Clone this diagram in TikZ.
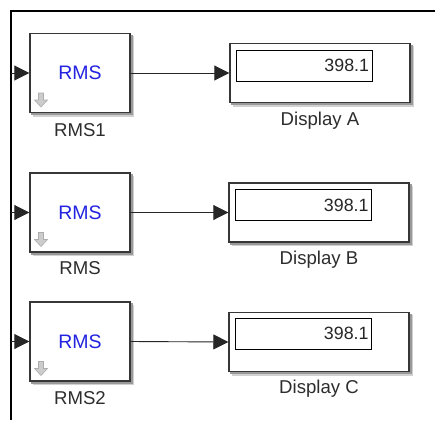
\documentclass[tikz,border=0pt]{standalone}
\usepackage{fontspec}
\setmainfont{Liberation Sans}
\usetikzlibrary{arrows.meta}
\definecolor{rmsblue}{RGB}{35,35,225}
\definecolor{lbl}{RGB}{45,45,45}
\definecolor{edge}{RGB}{55,55,55}
\tikzset{
  blk/.style={draw=edge, line width=1.4pt, fill=white, inner sep=0pt,
    minimum width=100pt, minimum height=79pt},
  disp/.style={draw=edge, line width=1.4pt, fill=white, inner sep=0pt,
    minimum width=180pt, minimum height=59pt},
  dispin/.style={draw=black, line width=0.8pt, fill=white, inner sep=0pt,
    minimum width=136pt, minimum height=31pt, text width=130pt, align=right,
    font=\fontsize{17.8}{18}\selectfont, text=black!85},
  rmstext/.style={font=\fontsize{19.5}{20}\selectfont, text=rmsblue},
  lab/.style={font=\fontsize{18.6}{19}\selectfont, text=lbl, inner sep=0pt},
  wire/.style={draw=black!85, line width=0.9pt, -{Triangle[length=15pt,width=15pt]}},
  frame/.style={draw=black, line width=2.6pt},
}
\newcommand{\shadowbox}[1]{%
  \fill[black!18] ([shift={(3.5,3.5)}]#1.north west) rectangle ([shift={(3.5,3.5)}]#1.south east);
  \fill[black!40] ([shift={(2,2)}]#1.north west) rectangle ([shift={(2,2)}]#1.south east);
}
\newcommand{\downicon}[2]{%
  \filldraw[fill=black!20, draw=black!32, line width=0.6pt]
    (#1-2.5,#2) -- (#1+2.5,#2) -- (#1+2.5,#2+7) -- (#1+6.5,#2+7) -- (#1,#2+14)
    -- (#1-6.5,#2+7) -- (#1-2.5,#2+7) -- cycle;
}
\begin{document}
\begin{tikzpicture}[x=1pt,y=-1pt]
\useasboundingbox (0,0) rectangle (435,420);
\fill[white] (0,0) rectangle (435,420);
% frame
\draw[frame] (11,420) -- (11,11) -- (435,11);

% ---------- row 1 ----------
\node[blk] (r1) at (80,73) {};
\shadowbox{r1}
\node[blk] (r1) at (80,73) {};
\node[rmstext] at (80,73) {RMS};
\downicon{41}{93}
\node[lab] (r1l) at (80,130) {RMS1};
\node[disp] (d1) at (320,73) {};
\shadowbox{d1}
\node[disp] (d1) at (320,73) {};
\node[dispin] (d1i) at (304,65.5) {398.1};
\node[lab] (d1l) at (320,121) {Display A};
\coordinate (i1) at (11,73);
\draw[wire] (i1) -- (r1.west);
\draw[wire] (r1.east) -- (d1.west);

% ---------- row 2 ----------
\node[blk] (r2) at (80,212.5) {};
\shadowbox{r2}
\node[blk] (r2) at (80,212.5) {};
\node[rmstext] at (80,212.5) {RMS};
\downicon{41}{232.5}
\node[lab] (r2l) at (80,268) {RMS};
\node[disp] (d2) at (319,212.5) {};
\shadowbox{d2}
\node[disp] (d2) at (319,212.5) {};
\node[dispin] (d2i) at (303.5,205) {398.1};
\node[lab] (d2l) at (319,260) {Display B};
\coordinate (i2) at (11,212.5);
\draw[wire] (i2) -- (r2.west);
\draw[wire] (r2.east) -- (d2.west);

% ---------- row 3 ----------
\node[blk] (r3) at (80,341.5) {};
\shadowbox{r3}
\node[blk] (r3) at (80,341.5) {};
\node[rmstext] at (80,341.5) {RMS};
\downicon{41}{361.5}
\node[lab] (r3l) at (80,398) {RMS2};
\node[disp] (d3) at (319,342) {};
\shadowbox{d3}
\node[disp] (d3) at (319,342) {};
\node[dispin] (d3i) at (303.5,333.5) {398.1};
\node[lab] (d3l) at (319,389) {Display C};
\coordinate (i3) at (11,341.5);
\draw[wire] (i3) -- (r3.west);
\draw[wire] (r3.east) -- (d3.west);
\end{tikzpicture}
\end{document}
